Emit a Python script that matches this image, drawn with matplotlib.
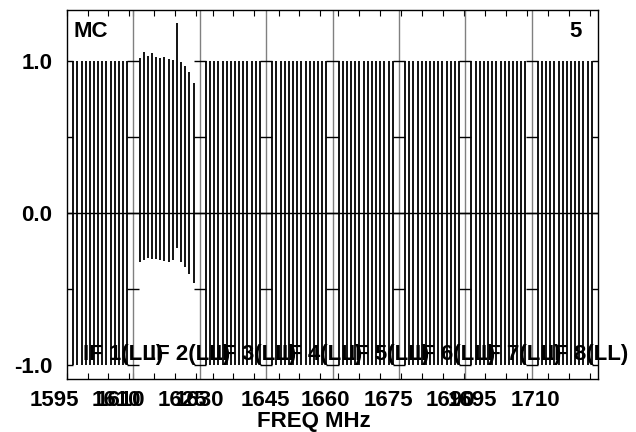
import matplotlib
matplotlib.use("Agg")
import matplotlib.pyplot as plt
import matplotlib.transforms as mtransforms
import numpy as np

plt.rcParams["font.family"] = ["Liberation Sans", "DejaVu Sans"]
plt.rcParams["font.weight"] = "bold"

# 8 IFs of 16 x 1 MHz channels, edge channels not plotted
if_names = ["IF 1(LL)", "IF 2(LL)", "IF 3(LL)", "IF 4(LL)",
            "IF 5(LL)", "IF 6(LL)", "IF 7(LL)", "IF 8(LL)"]
if_start = [1595.0, 1610.0, 1626.9, 1642.0, 1658.6, 1674.4, 1690.2, 1706.0]
if_width = 16.0
chans = [2, 3, 4, 5, 6, 7, 8, 9, 10, 11, 12, 13, 14, 15]

flat_top = [1.0] * 14
flat_bot = [-1.0] * 14
if2_top = [1.022, 1.057, 1.033, 1.051, 1.029, 1.022, 1.026,
           1.011, 1.007, 1.252, 0.991, 0.967, 0.928, 0.857]
if2_bot = [-0.320, -0.309, -0.294, -0.300, -0.305, -0.309, -0.316,
           -0.320, -0.309, -0.232, -0.320, -0.355, -0.400, -0.460]
tops = [flat_top, if2_top, flat_top, flat_top, flat_top, flat_top, flat_top, flat_top]
bots = [flat_bot, if2_bot, flat_bot, flat_bot, flat_bot, flat_bot, flat_bot, flat_bot]

# frequencies labelled inside each IF panel
if_labels = [[1595, 1610], [1610, 1625], [1630], [1645],
             [1660], [1675, 1690], [1695], [1710]]
yticks = [-1.0, -0.5, 0.0, 0.5, 1.0]
ytick_labels = ["-1.0", "", "0.0", "", "1.0"]

fig = plt.figure(figsize=(6.36, 4.32), dpi=100)
ax = fig.add_axes([67 / 636, 1 - 378.5 / 432, 531 / 636, 368.5 / 432])

major_u, major_lab, minor_u = [], [], []
for i in range(8):
    u0 = i * if_width
    x = [u0 + c - 0.5 for c in chans]
    ax.vlines(x, bots[i], tops[i], color="black", lw=1.3)
    for f in if_labels[i]:
        major_u.append(u0 + f - if_start[i])
        major_lab.append(str(f))
    for f in np.arange(np.ceil(if_start[i] / 5) * 5, if_start[i] + if_width + 0.01, 5):
        minor_u.append(u0 + f - if_start[i])
    ax.text(u0 + 3.9, -0.967, if_names[i], fontsize=16, fontweight="bold",
            va="baseline", ha="left")

for b in range(1, 8):
    ax.axvline(b * if_width, color="#808080", lw=1.0)
    ax.hlines(yticks, b * if_width - 1.45, b * if_width + 1.45, color="black", lw=1.0)

ax.axhline(0, color="black", lw=1.0)

ax.set_xlim(0, 8 * if_width)
ax.set_ylim(-1.089, 1.336)
ax.set_xticks(major_u, major_lab)
ax.set_xticks(minor_u, minor=True)
ax.set_yticks(yticks, ytick_labels)
ax.tick_params(axis="x", which="both", direction="in", top=True, length=4,
               width=0.8, labelsize=16, pad=8)
ax.tick_params(axis="y", direction="in", right=True, length=4.5,
               width=1.0, labelsize=16, pad=10.5)
for lab in ax.get_xticklabels():
    lab.set_fontweight("bold")
    lab.set_transform(lab.get_transform() +
                      mtransforms.ScaledTranslation(-0.13, 0, fig.dpi_scale_trans))
for lab in ax.get_yticklabels():
    lab.set_fontweight("bold")
for s in ax.spines.values():
    s.set_linewidth(1.0)

ax.text(0.0113, 0.9267, "MC", transform=ax.transAxes, fontsize=16,
        fontweight="bold", va="baseline", ha="left")
ax.text(0.9699, 0.9267, "5", transform=ax.transAxes, fontsize=16,
        fontweight="bold", va="baseline", ha="right")
fig.text(314 / 636, 1 - 427 / 432, "FREQ MHz", fontsize=16, fontweight="bold",
         ha="center", va="baseline")

fig.savefig("out.png", dpi=100)
